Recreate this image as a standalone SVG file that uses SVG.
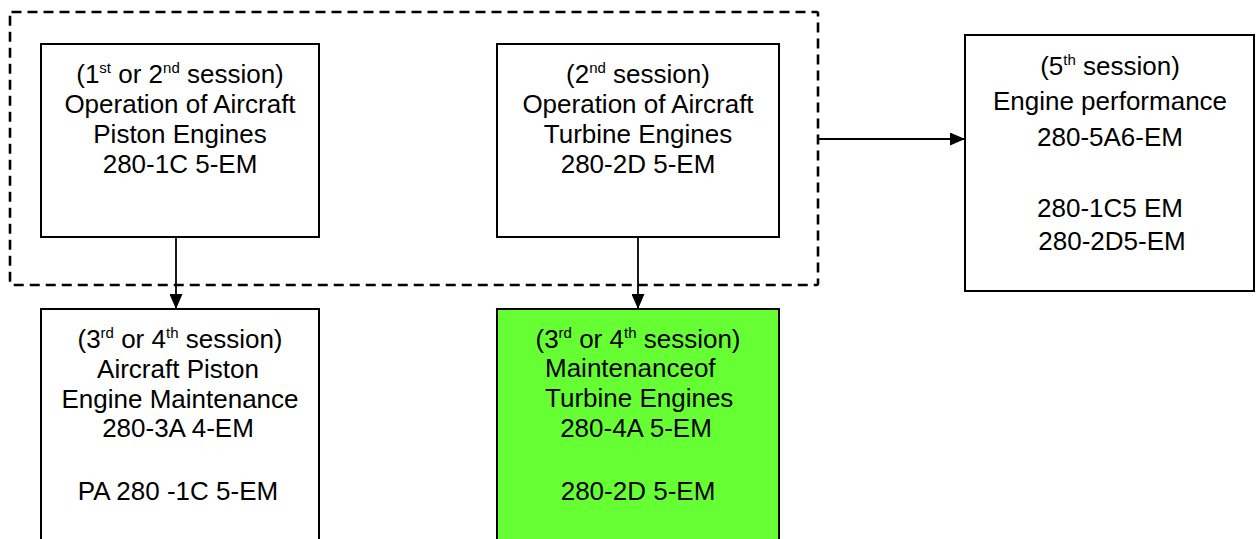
<svg xmlns="http://www.w3.org/2000/svg" width="1256" height="539" viewBox="0 0 1256 539">
<style>
.box{fill:#fff;stroke:#000;stroke-width:2}
.green{fill:#66ff33}
.t{font-family:"Liberation Sans",Arial,sans-serif;font-size:26px;fill:#000}
.c{text-anchor:middle}
.sup{font-size:15px}
.conn{stroke:#000;stroke-width:1.8;fill:none}
</style>
<defs>
<marker id="ah" markerWidth="15" markerHeight="13" refX="15" refY="6.5" orient="auto" markerUnits="userSpaceOnUse">
<path d="M0,0 L15,6.5 L0,13 Z" fill="#000"/>
</marker>
</defs>
<rect width="1256" height="539" fill="#fff"/>
<g id="group-boundary">
<rect x="10" y="12" width="808" height="273" rx="1.5" fill="none" stroke="#000" stroke-width="2.6" stroke-dasharray="10,6"/>
</g>
<g id="node-piston-op">
<rect class="box" x="41" y="44" width="278" height="193"/>
<text class="t c" x="180" y="83">(1<tspan class="sup" dy="-10">st</tspan><tspan dy="10"> or 2</tspan><tspan class="sup" dy="-10">nd</tspan><tspan dy="10"> session)</tspan></text>
<text class="t c" x="180" y="113">Operation of Aircraft</text>
<text class="t c" x="180" y="143">Piston Engines</text>
<text class="t c" x="180" y="173">280-1C 5-EM</text>
</g>
<g id="node-turbine-op">
<rect class="box" x="497" y="44" width="282" height="193"/>
<text class="t c" x="638" y="83">(2<tspan class="sup" dy="-10">nd</tspan><tspan dy="10"> session)</tspan></text>
<text class="t c" x="638" y="113">Operation of Aircraft</text>
<text class="t c" x="638" y="143">Turbine Engines</text>
<text class="t c" x="638" y="173">280-2D 5-EM</text>
</g>
<g id="node-performance">
<rect class="box" x="965" y="35" width="289" height="256"/>
<text class="t c" x="1110" y="75">(5<tspan class="sup" dy="-10">th</tspan><tspan dy="10"> session)</tspan></text>
<text class="t c" x="1110" y="110">Engine performance</text>
<text class="t c" x="1110" y="146">280-5A6-EM</text>
<text class="t c" x="1110" y="217">280-1C5 EM</text>
<text class="t c" x="1112" y="250">280-2D5-EM</text>
</g>
<g id="node-piston-maint">
<rect class="box" x="41" y="309" width="278" height="240"/>
<text class="t c" x="180" y="348">(3<tspan class="sup" dy="-10">rd</tspan><tspan dy="10"> or 4</tspan><tspan class="sup" dy="-10">th</tspan><tspan dy="10"> session)</tspan></text>
<text class="t c" x="178" y="378">Aircraft Piston</text>
<text class="t c" x="180" y="408">Engine Maintenance</text>
<text class="t c" x="178" y="437">280-3A 4-EM</text>
<text class="t c" x="178" y="500">PA 280 -1C 5-EM</text>
</g>
<g id="node-turbine-maint">
<rect class="box green" x="497" y="309" width="282" height="240"/>
<text class="t c" x="638" y="348">(3<tspan class="sup" dy="-10">rd</tspan><tspan dy="10"> or 4</tspan><tspan class="sup" dy="-10">th</tspan><tspan dy="10"> session)</tspan></text>
<text class="t" x="545" y="377">Maintenanceof</text>
<text class="t" x="545" y="407">Turbine Engines</text>
<text class="t c" x="636" y="437">280-4A 5-EM</text>
<text class="t c" x="638" y="500">280-2D 5-EM</text>
</g>
<g id="connectors">
<line class="conn" x1="176" y1="237" x2="176" y2="309" marker-end="url(#ah)"/>
<line class="conn" x1="638" y1="237" x2="638" y2="309" marker-end="url(#ah)"/>
<line class="conn" x1="818" y1="139" x2="965" y2="139" marker-end="url(#ah)"/>
</g>
</svg>
